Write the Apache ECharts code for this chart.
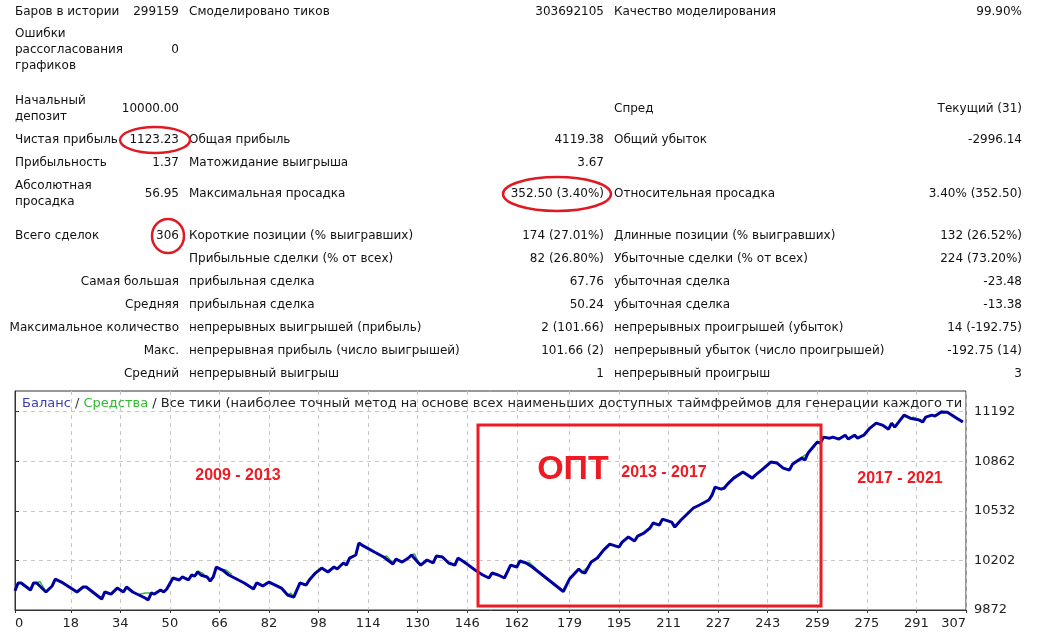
<!DOCTYPE html>
<html>
<head>
<meta charset="utf-8">
<script src="https://cdn.jsdelivr.net/npm/echarts@6/dist/echarts.min.js"></script>
<style>
html, body { margin: 0; padding: 0; background: #fff; }
#report { width: 1062px; height: 640px; }
</style>
</head>
<body>
<div id="report"></div>
<script>
// номер сделки и баланс после неё
const tradeNo = [0,1,2,5,6,7,10,12,13,15,20,22,23,28,29,31,33,35,36,38,42,43,44,45,46,47,48,49,51,53,54,56,57,58,59,60,62,63,64,65,67,69,74,77,78,80,82,86,88,90,92,94,95,97,99,101,103,104,106,107,108,110,111,112,116,119,122,123,125,127,128,130,131,133,135,136,138,140,142,143,145,149,151,153,154,156,158,160,162,163,165,167,177,179,182,183,184,186,188,190,192,195,196,198,200,201,203,205,206,208,209,212,213,215,217,219,221,224,225,226,228,229,230,232,235,238,239,241,244,246,248,250,251,252,254,255,256,259,260,261,263,264,266,268,269,271,272,274,276,278,280,282,283,284,287,289,292,293,294,296,297,299,301,304,306];
const balance = [10000,10052,10052,10005,10052,10052,9992,10032,10078,10058,9992,10025,10025,9945,9992,9978,10018,9992,10025,9992,9952,9939,9985,9978,9992,10005,9992,10012,10085,10072,10092,10072,10105,10098,10125,10105,10092,10065,10092,10158,10138,10105,10052,10012,10052,10032,10058,10018,9972,9958,10052,10038,10072,10118,10151,10125,10158,10145,10185,10171,10218,10238,10318,10304,10258,10225,10178,10211,10191,10218,10238,10191,10171,10205,10185,10231,10225,10185,10171,10218,10191,10131,10105,10085,10118,10105,10085,10171,10158,10198,10185,10158,9995,10078,10145,10125,10118,10191,10218,10271,10311,10291,10324,10358,10331,10364,10384,10418,10451,10437,10477,10457,10424,10471,10511,10551,10571,10604,10637,10690,10677,10684,10710,10750,10790,10750,10770,10803,10857,10850,10817,10803,10843,10857,10883,10870,10917,10990,10983,11023,11016,11023,11010,11036,11010,11036,11016,11036,11083,11116,11103,11076,11116,11089,11169,11149,11136,11123,11156,11169,11163,11190,11188,11149,11123];

// средства: видны только куски, где они отходят от баланса (null = разрыв)
const equityTradeNo = [7,8,10,null,40,42,44,null,58,59,61,null,67,68,70,null,88,89,90,null,96,98,99,null,119,120,122,null,128,129,130,null,165,166,168,null,183,185,186,null,253,254,256,null,289,290,292,null,298,299,300];
const equity = [10052,10062,9995,null,9975,9985,9985,null,10098,10132,10112,null,10138,10140,10110,null,9972,9985,9962,null,10105,10140,10151,null,10225,10232,10185,null,10238,10245,10200,null,10185,10190,10150,null,10125,10160,10191,null,10870,10890,10917,null,11149,11156,11140,null,11180,11195,11188];

const xTicks = [0,18,34,50,66,82,98,114,130,146,162,179,195,211,227,243,259,275,291,307];
const yTicks = [9872,10202,10532,10862,11192];

// отчёт тестера: 6 колонок
const tableRows = [
  ['Баров в истории','299159','Смоделировано тиков','303692105','Качество моделирования','99.90%'],
  ['Ошибки\nрассогласования\nграфиков','0','','','',''],
  ['Начальный\nдепозит','10000.00','','','Спред','Текущий (31)'],
  ['Чистая прибыль','1123.23','Общая прибыль','4119.38','Общий убыток','-2996.14'],
  ['Прибыльность','1.37','Матожидание выигрыша','3.67','',''],
  ['Абсолютная\nпросадка','56.95','Максимальная просадка','352.50 (3.40%)','Относительная просадка','3.40% (352.50)'],
  ['Всего сделок','306','Короткие позиции (% выигравших)','174 (27.01%)','Длинные позиции (% выигравших)','132 (26.52%)'],
  ['','','Прибыльные сделки (% от всех)','82 (26.80%)','Убыточные сделки (% от всех)','224 (73.20%)'],
  ['','Самая большая','прибыльная сделка','67.76','убыточная сделка','-23.48'],
  ['','Средняя','прибыльная сделка','50.24','убыточная сделка','-13.38'],
  ['','Максимальное количество','непрерывных выигрышей (прибыль)','2 (101.66)','непрерывных проигрышей (убыток)','14 (-192.75)'],
  ['','Макс.','непрерывная прибыль (число выигрышей)','101.66 (2)','непрерывный убыток (число проигрышей)','-192.75 (14)'],
  ['','Средний','непрерывный выигрыш','1','непрерывный проигрыш','3']
];
const rowY = [12,50,109,140,163,194,236,259,282,305,328,351,374];
const colX = [15,179,189,604,614,1022];
const colAlign = ['left','right','left','right','left','right'];

const periodLabels = ['2009 - 2013','2013 - 2017','2017 - 2021'];
const optLabel = 'ОПТ';
const titleParts = ['Баланс', ' / ', 'Средства', ' / Все тики (наиболее точный метод на основе всех наименьших доступных таймфреймов для генерации каждого тика)'];

const chartDom = document.getElementById('report');
const myChart = echarts.init(chartDom);

const balancePoints = tradeNo.map((t, i) => [t, balance[i]]);
const equityPoints = equityTradeNo.map((t, i) => (t === null ? [null, null] : [t, equity[i]]));

function txt(x, y, text, align, font, color) {
  return {
    type: 'text', x: x, y: y, silent: true, z: 10,
    style: {
      text: text, font: font, fill: color,
      align: align, textAlign: align,
      verticalAlign: 'middle', textVerticalAlign: 'middle',
      lineHeight: 16
    }
  };
}

const graphics = [];
tableRows.forEach((row, r) => {
  row.forEach((cell, c) => {
    if (cell) graphics.push(txt(colX[c], rowY[r], cell, colAlign[c], '12px "DejaVu Sans"', '#111'));
  });
});

// красные пометки
const red = '#ed1c24';
graphics.push(
  { type: 'ellipse', silent: true, z: 11, shape: { cx: 155, cy: 140, rx: 35, ry: 13 }, style: { fill: 'none', stroke: '#e01a22', lineWidth: 2.5 } },
  { type: 'ellipse', silent: true, z: 11, shape: { cx: 557, cy: 194, rx: 54, ry: 17 }, style: { fill: 'none', stroke: '#e01a22', lineWidth: 2.5 } },
  { type: 'ellipse', silent: true, z: 11, shape: { cx: 168, cy: 236, rx: 16, ry: 17 }, style: { fill: 'none', stroke: '#e01a22', lineWidth: 2.5 } },
  { type: 'rect', silent: true, z: 11, shape: { x: 478, y: 425, width: 343, height: 181 }, style: { fill: 'none', stroke: red, lineWidth: 3 } },
  txt(238, 476, periodLabels[0], 'center', 'bold 16px "Liberation Sans"', red),
  txt(664, 473, periodLabels[1], 'center', 'bold 16px "Liberation Sans"', red),
  txt(900, 479, periodLabels[2], 'center', 'bold 16px "Liberation Sans"', red),
  txt(573, 470, optLabel, 'center', 'bold 34px "Liberation Sans"', red)
);

// заголовок графика: куски разного цвета подряд, хвост обрезается по рамке
const titleFont = '13px "DejaVu Sans"';
const titleColors = ['#3c3cb4', '#333', '#2ebd2e', '#222'];
const ctx = document.createElement('canvas').getContext('2d');
ctx.font = titleFont;
const titleRight = 965;
let tx = 22;
titleParts.forEach((part, i) => {
  let s = part;
  while (s.length && tx + ctx.measureText(s).width > titleRight) s = s.slice(0, -1);
  graphics.push(txt(tx, 404, s, 'left', titleFont, titleColors[i]));
  tx += ctx.measureText(part).width;
});

const option = {
  animation: false,
  backgroundColor: '#fff',
  grid: {
    left: 15, right: 96, top: 391, bottom: 30,
    show: true, borderColor: '#333', borderWidth: 1,
    outerBoundsMode: 'none'
  },
  xAxis: {
    type: 'value', min: 0, max: 307,
    axisLine: { show: true, lineStyle: { color: '#333' } },
    axisTick: { show: true, length: 3, customValues: xTicks, lineStyle: { color: '#333' } },
    axisLabel: {
      customValues: xTicks, color: '#222', fontSize: 13, fontFamily: 'DejaVu Sans', margin: 7,
      alignMinLabel: 'left', alignMaxLabel: 'right'
    },
    splitLine: { show: true, lineStyle: { color: '#c8c8c8', type: [4, 4] } }
  },
  yAxis: {
    type: 'value', position: 'right', min: 9872, max: 11330,
    axisLine: { show: true, lineStyle: { color: '#333' } },
    axisTick: { show: true, length: 4, customValues: yTicks, lineStyle: { color: '#333' } },
    axisLabel: {
      customValues: yTicks, color: '#222', fontSize: 13, fontFamily: 'DejaVu Sans', margin: 8,
      formatter: (v) => String(v)
    },
    splitLine: { show: true, lineStyle: { color: '#c8c8c8', type: [4, 4] } }
  },
  series: [
    {
      name: 'Средства', type: 'line', data: equityPoints,
      symbol: 'none', connectNulls: false, silent: true, z: 2,
      lineStyle: { color: '#2ec02e', width: 1.5 }
    },
    {
      name: 'Баланс', type: 'line', data: balancePoints,
      symbol: 'none', silent: true, z: 3,
      lineStyle: { color: '#0000a0', width: 3 }
    }
  ],
  graphic: graphics
};
myChart.setOption(option);
window.addEventListener('resize', myChart.resize);
</script>
</body>
</html>
